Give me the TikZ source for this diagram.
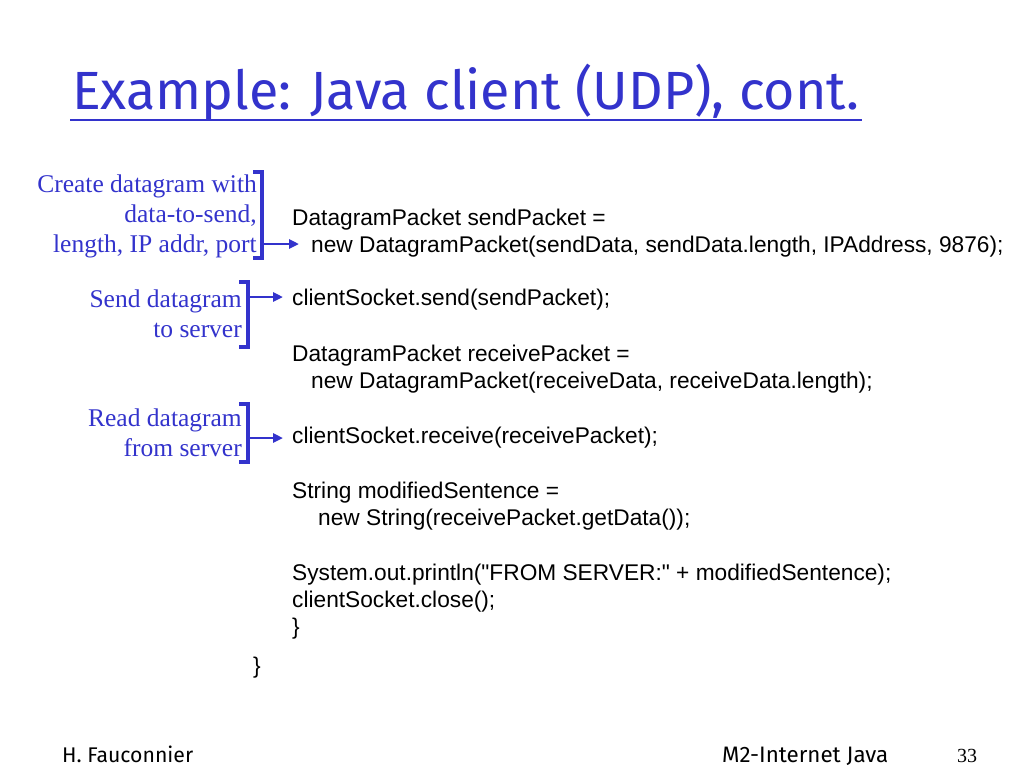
\documentclass[tikz,border=0pt]{standalone}
\usepackage{fontspec}
\setmainfont{Liberation Serif}
\newfontfamily\codefont{Liberation Sans}
\newfontfamily\titlefont{Fira Sans}
\usetikzlibrary{arrows.meta}
\definecolor{slideblue}{RGB}{51,51,204}
\begin{document}
\begin{tikzpicture}[x=1pt,y=-1pt,
  code/.style={anchor=base west,inner sep=0pt,font=\codefont\fontsize{22.7}{27}\selectfont,text=black},
  note/.style={anchor=base east,inner sep=0pt,font=\fontsize{25.5}{30}\selectfont,text=slideblue},
  brk/.style={draw=slideblue,line width=3.2pt,line cap=rect},
  pointer/.style={draw=slideblue,line width=2.8pt,-{Triangle[length=10pt,width=9pt]}},
  foot/.style={anchor=base west,inner sep=0pt,text=black}]
\useasboundingbox (0,0) rectangle (1024,768);
\fill[white] (0,0) rectangle (1024,768);
% title
\node[anchor=base west,inner sep=0pt,text=slideblue] (title) at (72,109)
  {\resizebox{787pt}{!}{\titlefont\fontsize{60}{60}\selectfont Example: Java client (UDP), cont.}};
\draw[slideblue,line width=2pt] (70,120) -- (862,120);
% annotations
\node[note] (n1a) at (257,192) {Create datagram with};
\node[note] (n1b) at (257,222) {data-to-send,};
\node[note] (n1c) at (257,252) {length, IP addr, port};
\node[note] (n2a) at (242,307) {Send datagram};
\node[note] (n2b) at (242,337) {to server};
\node[note] (n3a) at (242,426) {Read datagram};
\node[note] (n3b) at (242,456) {from server};
% brackets
\draw[brk] (255,172) -- (262,172) -- (262,258) -- (255,258);
\draw[brk] (241,282) -- (248,282) -- (248,347) -- (241,347);
\draw[brk] (241,404) -- (248,404) -- (248,462) -- (241,462);
\coordinate (b1) at (262,244);
\coordinate (b2) at (248,297);
\coordinate (b3) at (248,438);
% code
\node[code] (c1) at (292,225) {DatagramPacket sendPacket =};
\node[code] (c2) at (311,252) {new DatagramPacket(sendData, sendData.length, IPAddress, 9876);};
\node[code] (c3) at (292,305) {clientSocket.send(sendPacket);};
\node[code] (c4) at (292,361) {DatagramPacket receivePacket =};
\node[code] (c5) at (311,388) {new DatagramPacket(receiveData, receiveData.length);};
\node[code] (c6) at (292,443) {clientSocket.receive(receivePacket);};
\node[code] (c7) at (292,498) {String modifiedSentence =};
\node[code] (c8) at (318,525) {new String(receivePacket.getData());};
\node[code] (c9) at (292,580) {System.out.println("FROM SERVER:" + modifiedSentence);};
\node[code] (c10) at (292,607) {clientSocket.close();};
\node[code] (c11) at (292,634) {\}};
\node[code] (c12) at (253,673) {\}};
% pointers
\draw[pointer,shorten >=12pt] (b1) -- (b1 -| c2.west);
\draw[pointer,shorten >=9pt] (b2) -- (b2 -| c3.west);
\draw[pointer,shorten >=9pt] (b3) -- (b3 -| c6.west);
% footer
\node[foot] (f1) at (62,762) {\resizebox{131pt}{!}{\titlefont\fontsize{20}{20}\selectfont H. Fauconnier}};
\node[foot] (f2) at (722,762) {\resizebox{166pt}{!}{\titlefont\fontsize{20}{20}\selectfont M2-Internet Java}};
\node[foot,font=\fontsize{20}{20}\selectfont] (f3) at (957,762) {33};
\end{tikzpicture}
\end{document}
